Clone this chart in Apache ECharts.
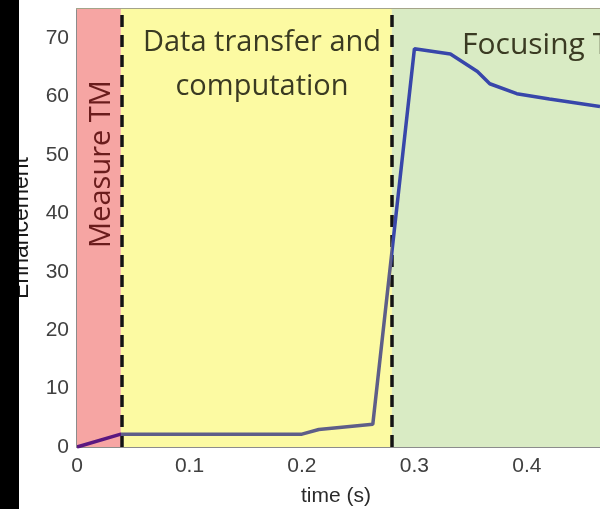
<!DOCTYPE html>
<html>
<head>
<meta charset="utf-8">
<script src="https://cdn.jsdelivr.net/npm/echarts@6/dist/echarts.min.js"></script>
<style>
  html, body { margin: 0; padding: 0; background: #fff; }
  #chart { width: 600px; height: 509px; }
</style>
</head>
<body>
<div id="chart"></div>
<script>
// Enhancement over time during the measurement / computation / focusing phases
const timeValues = [0, 0.039, 0.2, 0.215, 0.263, 0.300, 0.332, 0.356, 0.367, 0.391, 0.420, 0.465];
const enhancementValues = [0, 2.2, 2.2, 3.0, 3.9, 68.2, 67.3, 64.3, 62.2, 60.5, 59.6, 58.3];

// Phase boundaries (s)
const phaseBounds = [0, 0.039, 0.28, 0.465];
const phaseNames = ['Measure TM', 'Data transfer and\ncomputation', 'Focusing TM'];
const phaseColors = ['#f6a5a3', '#fcfaa2', '#d9ebc4'];
const lineColors = ['#5a1780', '#5e5e88', '#3846aa'];

const xTicks = [0, 0.1, 0.2, 0.3, 0.4];
const yTicks = [0, 10, 20, 30, 40, 50, 60, 70];
const xAxisTitle = 'time (s)';
const yAxisTitle = 'Enhancement';

const chart = echarts.init(document.getElementById('chart'), null, { renderer: 'canvas' });

const tickFont = { fontFamily: 'Liberation Sans', fontSize: 21, color: '#404040' };
const annotFont = 'Open Sans';

const option = {
  backgroundColor: '#ffffff',
  animation: false,
  grid: { left: 77, top: 9, bottom: 62, right: 0, show: false },
  xAxis: [{
    type: 'value', min: 0, max: 0.465, interval: 0.1,
    axisLine: { show: true, lineStyle: { color: '#8c8c8c', width: 2 } },
    axisTick: { show: true, inside: true, length: 4, lineStyle: { color: '#777' } },
    splitLine: { show: false },
    axisLabel: { ...tickFont, margin: 9, showMaxLabel: false,
      formatter: v => {
        const t = xTicks.find(k => Math.abs(k - v) < 1e-9);
        return t === undefined ? '' : (t === 0 ? '0' : t.toFixed(1));
      } }
  }, {
    type: 'value', position: 'top', min: 0, max: 0.465, interval: 0.1,
    axisLine: { show: true, lineStyle: { color: '#a4a48a', width: 2 } },
    axisTick: { show: true, inside: true, length: 4, lineStyle: { color: '#888' } },
    axisLabel: { show: false }, splitLine: { show: false }
  }],
  yAxis: {
    type: 'value', min: 0, max: 75, interval: 10,
    axisLine: { show: true, lineStyle: { color: '#8c8c8c', width: 2 } },
    axisTick: { show: true, inside: true, length: 4, lineStyle: { color: '#777' } },
    splitLine: { show: false },
    axisLabel: { ...tickFont, margin: 8, showMaxLabel: false,
      formatter: v => (yTicks.includes(v) ? String(v) : '') }
  },
  visualMap: {
    show: false, type: 'piecewise', dimension: 0, seriesIndex: 0,
    pieces: [
      { gte: phaseBounds[0], lt: phaseBounds[1], color: lineColors[0] },
      { gte: phaseBounds[1], lt: phaseBounds[2], color: lineColors[1] },
      { gte: phaseBounds[2], lte: 1, color: lineColors[2] }
    ]
  },
  series: [{
    type: 'line',
    data: timeValues.map((t, i) => [t, enhancementValues[i]]),
    showSymbol: false, symbol: 'none',
    lineStyle: { width: 3.5 },
    z: 5,
    markArea: {
      silent: true,
      data: phaseColors.map((c, i) => [
        { xAxis: phaseBounds[i], itemStyle: { color: c } },
        { xAxis: phaseBounds[i + 1] }
      ])
    },
    markLine: {
      silent: true, symbol: 'none',
      label: { show: false },
      lineStyle: { color: '#141414', width: 3.5, type: [12, 8] },
      data: [{ xAxis: phaseBounds[1] }, { xAxis: phaseBounds[2] }]
    }
  }],
  graphic: [
    { type: 'text', x: 102, y: 164, rotation: Math.PI / 2, z: 50,
      style: { text: phaseNames[0], fontFamily: annotFont, fontSize: 29, fill: '#6a1c1c',
        textAlign: 'center', textVerticalAlign: 'middle' } },
    { type: 'text', x: 262, y: 65, z: 50,
      style: { text: phaseNames[1], fontFamily: annotFont, fontSize: 29, lineHeight: 44,
        fill: '#3a3a22', textAlign: 'center', textVerticalAlign: 'middle' } },
    { type: 'text', x: 462, y: 45, z: 50,
      style: { text: phaseNames[2], fontFamily: annotFont, fontSize: 30,
        fill: '#3a3a22', textAlign: 'left', textVerticalAlign: 'middle' } },
    { type: 'text', x: 336, y: 496, z: 50,
      style: { text: xAxisTitle, fontFamily: 'Liberation Sans', fontSize: 21, fill: '#2a2a2a',
        textAlign: 'center', textVerticalAlign: 'middle' } },
    { type: 'text', x: 22, y: 228, rotation: Math.PI / 2, z: 50,
      style: { text: yAxisTitle, fontFamily: 'Liberation Sans', fontSize: 23, fill: '#1a1a1a',
        textAlign: 'center', textVerticalAlign: 'middle' } },
    { type: 'rect', z: 100, shape: { x: 0, y: 0, width: 19, height: 509 },
      style: { fill: '#000' } }
  ]
};

chart.setOption(option);
</script>
</body>
</html>
